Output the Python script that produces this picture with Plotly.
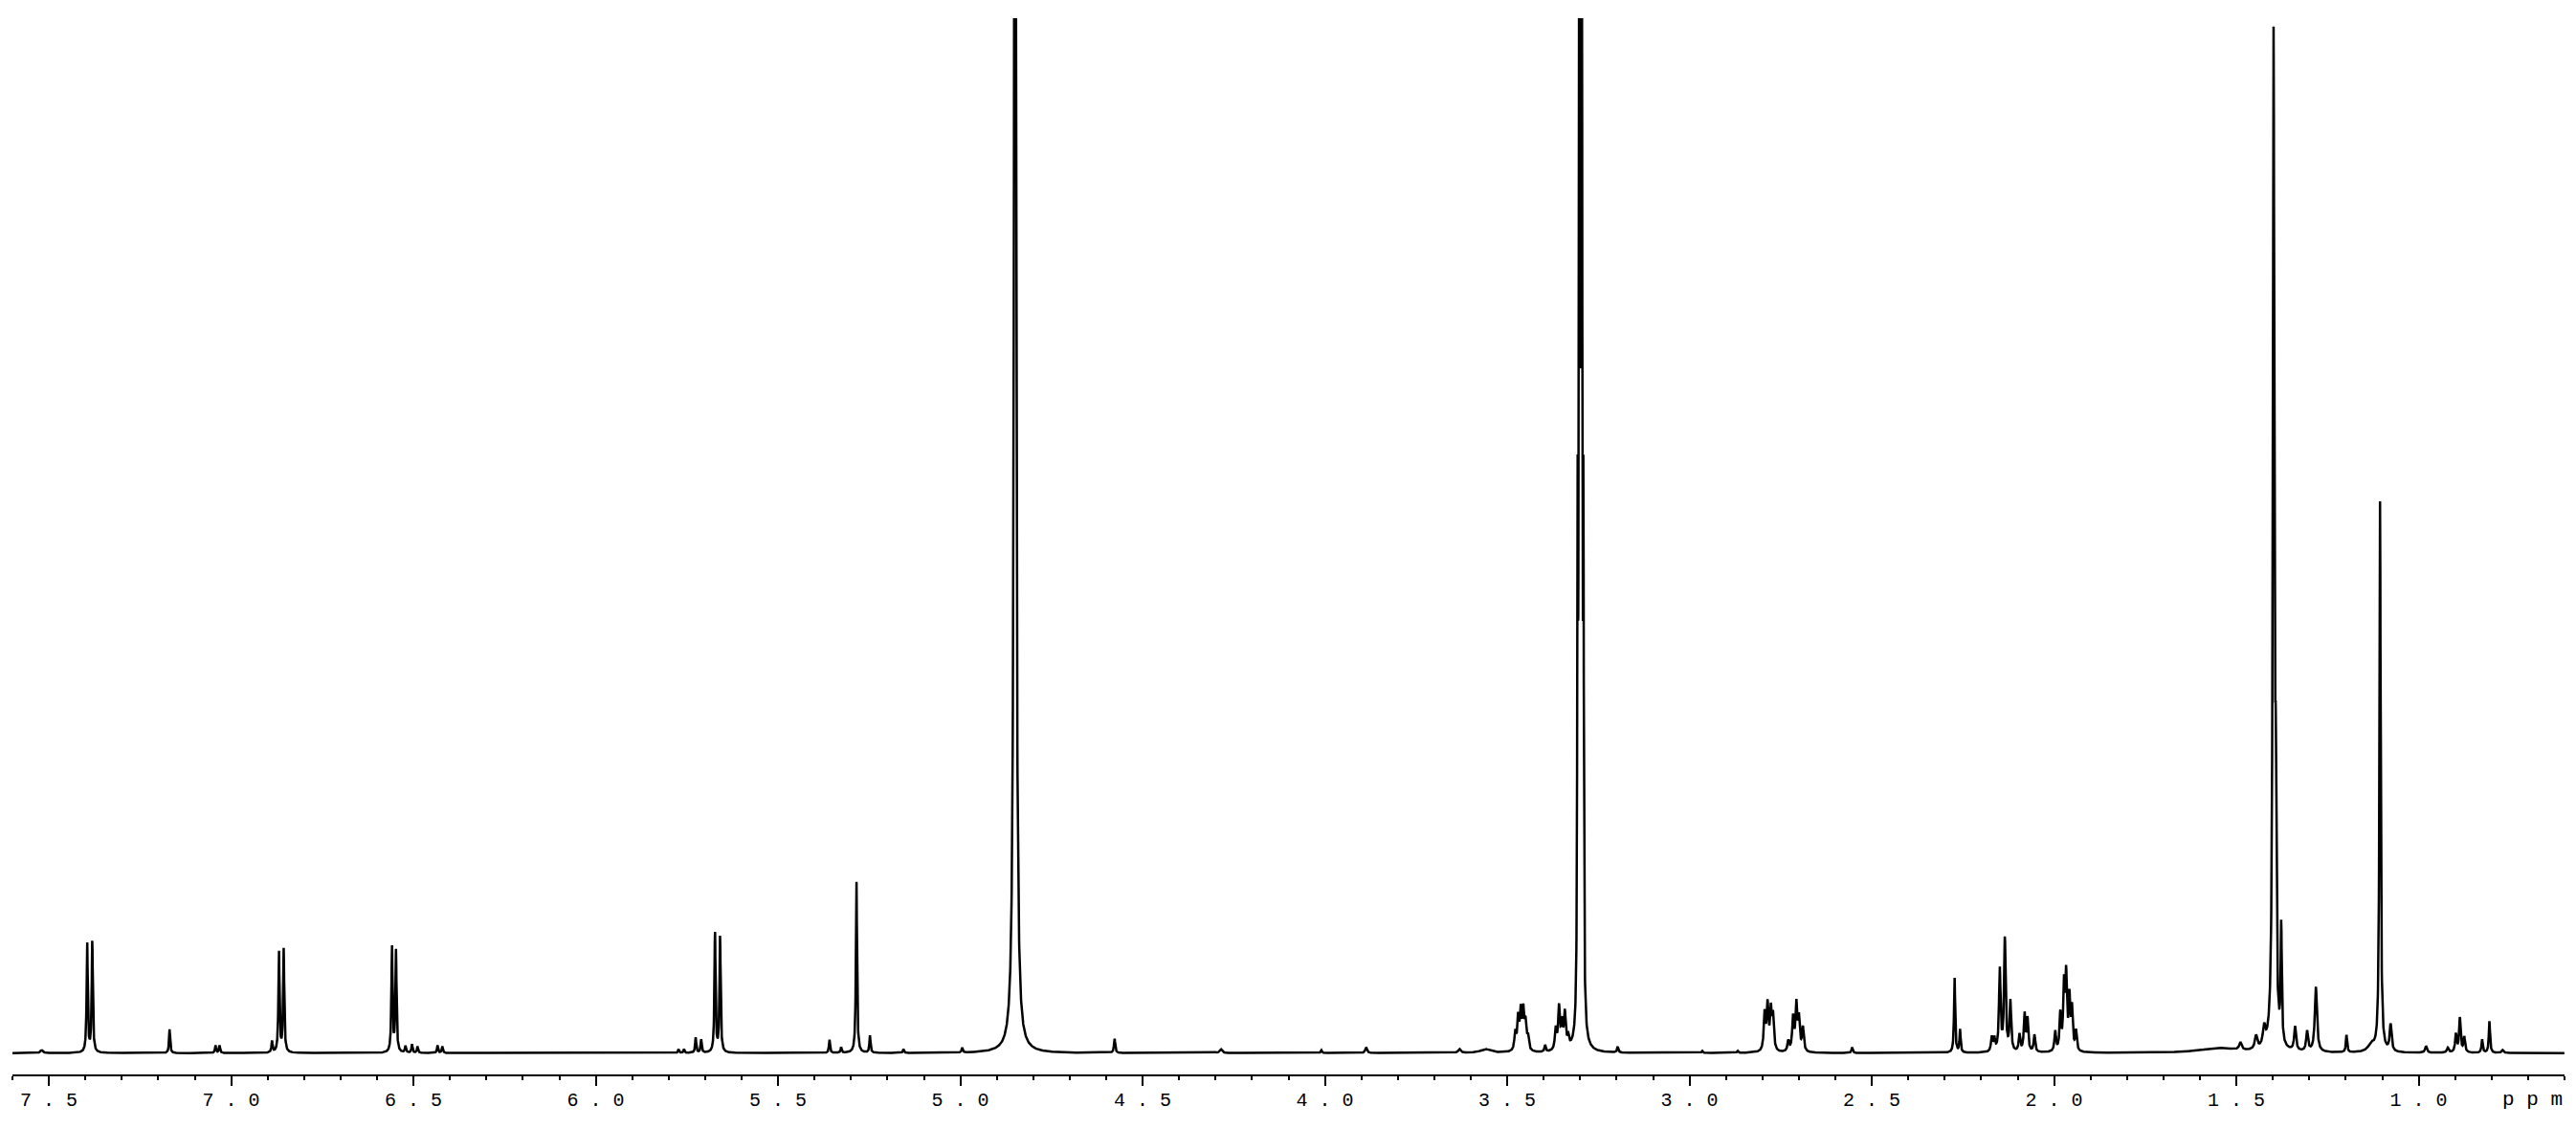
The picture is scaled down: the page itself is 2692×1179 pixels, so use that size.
import numpy as np
import plotly.graph_objects as go

# peak list: position (ppm), height (px above baseline), half width (ppm)
peak_ppm = [
    7.52, 7.395, 7.381, 7.169, 7.043, 7.032,
    6.888, 6.869, 6.856, 6.559, 6.548, 6.522, 6.504, 6.489, 6.434, 6.421,
    5.773, 5.758, 5.726, 5.711, 5.673, 5.659,
    5.359, 5.327, 5.285, 5.248, 5.156, 4.995,
    4.850, 4.577, 4.285, 4.01, 3.887, 3.631, 3.56,
    3.478, 3.470, 3.463, 3.456, 3.450, 3.443, 3.396,
    3.367, 3.358, 3.350, 3.342, 3.333,
    3.307, 3.303, 3.299, 3.295, 3.291,
    3.197, 2.965, 2.868,
    2.794, 2.786, 2.777, 2.771,
    2.729, 2.716, 2.707, 2.700, 2.689,
    2.554, 2.273, 2.258,
    2.171, 2.164, 2.149, 2.135, 2.120, 2.095, 2.081, 2.073, 2.054,
    1.997, 1.983, 1.973, 1.967, 1.958, 1.951, 1.940,
    1.55, 1.489, 1.446, 1.424,
    1.398, 1.392, 1.377, 1.339, 1.306, 1.282,
    1.198, 1.13, 1.106, 1.077,
    0.98, 0.92, 0.898, 0.887, 0.875, 0.826, 0.806, 0.77,
]
peak_height = [
    3, 115, 117, 24, 8, 8,
    12, 106, 108, 111, 106, 7, 9, 7, 8, 7,
    4, 4, 16, 14, 126, 122,
    14, 6, 181, 18, 4, 5,
    2000, 15, 4, 3, 6, 4, 4,
    19, 33, 39, 39, 27, 14, 7,
    22, 44, 26, 37, 12,
    500, 1000, 1500, 1000, 500,
    6, 2, 2,
    39, 47, 41, 35,
    11, 35, 48, 33, 25,
    6, 79, 24,
    15, 13, 86, 118, 52, 18, 39, 34, 18,
    21, 38, 66, 76, 54, 43, 21,
    5, 8, 14, 20,
    1054, 200, 122, 25, 21, 68,
    18, 8, 575, 28,
    7, 5, 19, 36, 16, 14, 33, 3,
]
peak_width = [
    0.004, 0.0018, 0.0018, 0.0018, 0.0018, 0.0018,
    0.0018, 0.0018, 0.0018, 0.0018, 0.0018, 0.0018, 0.0018, 0.0018, 0.0018, 0.0018,
    0.0018, 0.0018, 0.0018, 0.0018, 0.0018, 0.0018,
    0.0018, 0.0018, 0.0018, 0.0018, 0.0018, 0.0018,
    0.0028, 0.002, 0.004, 0.002, 0.003, 0.004, 0.015,
    0.0028, 0.0028, 0.0028, 0.0028, 0.0028, 0.0028, 0.002,
    0.0028, 0.0028, 0.0028, 0.0028, 0.0028,
    0.0012, 0.0012, 0.0012, 0.0012, 0.0012,
    0.002, 0.002, 0.002,
    0.0028, 0.0028, 0.0028, 0.0028,
    0.0028, 0.0028, 0.0028, 0.0028, 0.0028,
    0.002, 0.0018, 0.0018,
    0.0025, 0.0025, 0.0025, 0.0025, 0.0025, 0.0025, 0.0025, 0.0025, 0.0025,
    0.0025, 0.0025, 0.0025, 0.0025, 0.0025, 0.0025, 0.0025,
    0.06, 0.004, 0.004, 0.004,
    0.0025, 0.0018, 0.0018, 0.003, 0.003, 0.0035,
    0.002, 0.01, 0.002, 0.003,
    0.003, 0.003, 0.0025, 0.0025, 0.0025, 0.002, 0.002, 0.003,
]

tick_vals = [7.5, 7.0, 6.5, 6.0, 5.5, 5.0, 4.5, 4.0, 3.5, 3.0, 2.5, 2.0, 1.5, 1.0]
tick_text = [" . ".join(f"{v:.1f}".split(".")) for v in tick_vals]

ppm = np.arange(7.6, 0.6, -0.0004)
p0 = np.array(peak_ppm)[:, None]
h = np.array(peak_height)[:, None]
g = np.array(peak_width)[:, None]
intensity = (h * g**2 / ((ppm[None, :] - p0) ** 2 + g**2)).sum(axis=0)

fig = go.Figure()

fig.add_trace(
    go.Scatter(
        x=ppm,
        y=intensity,
        mode="lines",
        line=dict(color="black", width=2.5),
        hoverinfo="skip",
    )
)

fig.add_annotation(
    text="p p m",
    x=0.6,
    xref="x",
    y=0,
    yref="paper",
    xanchor="right",
    yanchor="top",
    yshift=-13,
    showarrow=False,
    font=dict(family="Liberation Mono", size=21, color="black"),
)

# page body has an 8px margin, so the figure is sized to fit inside it
fig.update_layout(
    width=2676,
    height=1163,
    margin=dict(l=5, r=4, t=11, b=48),
    paper_bgcolor="white",
    plot_bgcolor="white",
    showlegend=False,
    xaxis=dict(
        range=[7.6, 0.6],
        tickmode="array",
        tickvals=tick_vals,
        ticktext=tick_text,
        ticks="outside",
        ticklen=10,
        tickwidth=2,
        tickcolor="black",
        ticklabelstandoff=-3,
        showline=True,
        linecolor="black",
        linewidth=2,
        showgrid=False,
        zeroline=False,
        automargin=False,
        tickfont=dict(family="Liberation Mono", size=20, color="black"),
        minor=dict(
            tickmode="linear",
            tick0=0.6,
            dtick=0.1,
            ticks="outside",
            ticklen=4,
            tickwidth=2,
            tickcolor="black",
            showgrid=False,
        ),
    ),
    yaxis=dict(
        range=[-22.3, 1081.7],
        visible=False,
        showgrid=False,
        zeroline=False,
    ),
)

fig.write_html("out.html")
